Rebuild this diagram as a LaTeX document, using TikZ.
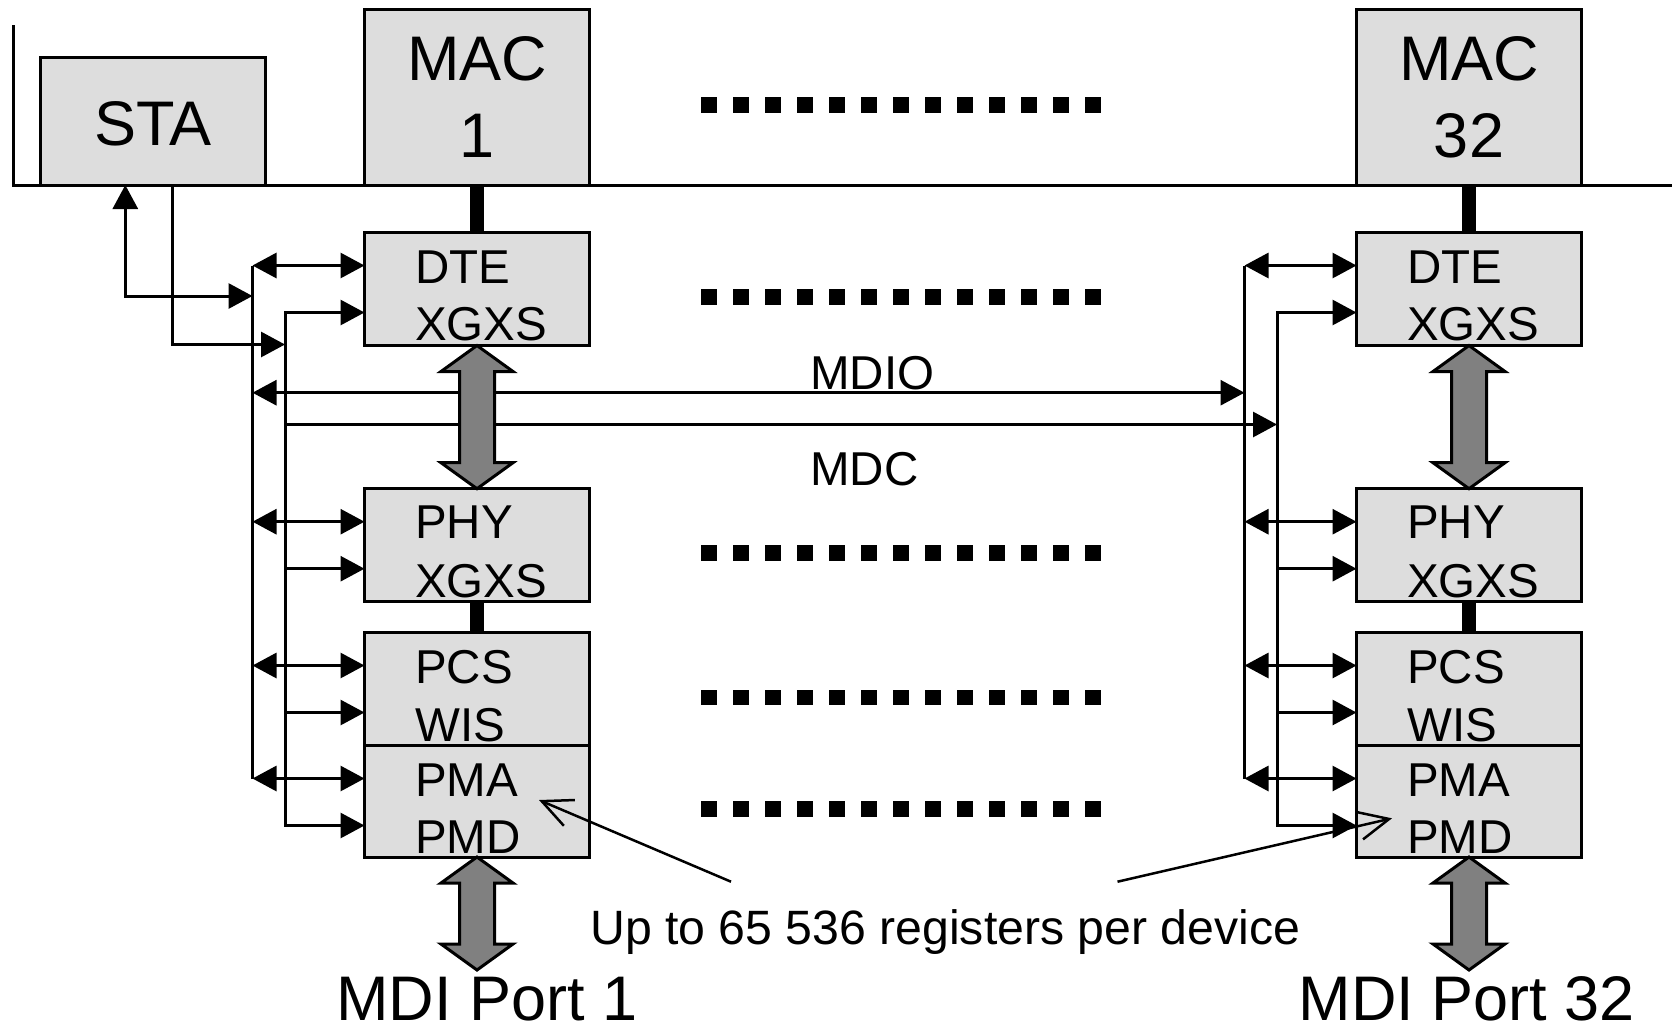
\documentclass[tikz,border=0pt]{standalone}
\usepackage{fontspec}
\setmainfont{Liberation Sans}
\usetikzlibrary{arrows.meta,calc}
\definecolor{boxgray}{HTML}{DDDDDD}
\definecolor{arrowgray}{HTML}{808080}

% double-headed fat arrow between a top point and a bottom point
\newcommand\bigdarrow[2]{%
  \filldraw[fat] let \p1=(#1), \p2=(#2) in
    (\x1,\y1) -- (\x1+36pt,\y1-26pt) -- (\x1+17.5pt,\y1-26pt)
    -- (\x1+17.5pt,\y2+26pt) -- (\x1+36pt,\y2+26pt) -- (\x1,\y2)
    -- (\x1-36pt,\y2+26pt) -- (\x1-17.5pt,\y2+26pt)
    -- (\x1-17.5pt,\y1-26pt) -- (\x1-36pt,\y1-26pt) -- cycle;}

\begin{document}
\begin{tikzpicture}[x=1pt,y=1pt,
  box/.style={draw=black,line width=3pt,fill=boxgray,minimum width=225pt,
    inner sep=0pt,outer sep=0pt},
  wire/.style={line width=3pt},
  tri/.tip={Triangle[length=24pt,width=25pt]},
  biarrow/.style={wire,arrows={tri-tri}},
  onearrow/.style={wire,arrows={-tri}},
  fat/.style={draw=black,fill=arrowgray,line width=3pt,line join=miter},
  link/.style={line width=14pt},
  txt/.style={inner sep=0pt,font=\fontsize{47.5}{57}\selectfont},
  notetxt/.style={inner sep=0pt,font=\fontsize{48.2}{58}\selectfont},
  bigtxt/.style={inner sep=0pt,font=\fontsize{63}{76}\selectfont},
  notearrow/.style={line width=2.5pt,arrows={-Straight Barb[length=30pt,width=28pt]}}
]
\useasboundingbox (0,0) rectangle (1672,-1029);

% station bus
\coordinate (busTop) at (13,-25);
\coordinate (busEnd) at (1672,-185);
\draw[wire] (busTop) |- (busEnd);

% management station and MACs
\node[box,minimum height=127.5pt] (sta) at (153,-121.25) {};
\node[box,minimum height=176pt] (mac1) at (477,-97) {};
\node[box,minimum height=176pt] (mac32) at (1469,-97) {};

% port 1 stack
\node[box,minimum height=113pt] (dte1) at (477,-289) {};
\node[box,minimum height=113pt] (phy1) at (477,-545.2) {};
\node[box,minimum height=113pt] (pcs1) at (477,-689) {};
\node[box,minimum height=111.5pt] (pma1) at (477,-801.25) {};

% port 32 stack
\node[box,minimum height=113pt] (dte32) at (1469,-289) {};
\node[box,minimum height=113pt] (phy32) at (1469,-545.2) {};
\node[box,minimum height=113pt] (pcs32) at (1469,-689) {};
\node[box,minimum height=111.5pt] (pma32) at (1469,-801.25) {};

% solid links between layers
\draw[link] (mac1.south) -- (dte1.north);
\draw[link] (phy1.south) -- (pcs1.north);
\draw[link] (mac32.south) -- (dte32.north);
\draw[link] (phy32.south) -- (pcs32.north);

% MDIO / MDC rails
\coordinate (mdioL) at (252.5,0);
\coordinate (mdcL) at (285,0);
\coordinate (mdioR) at (1244.5,0);
\coordinate (mdcR) at (1277,0);
\coordinate (mdioY) at (0,-392.7);
\coordinate (mdcY) at (0,-424.5);
\coordinate (staY1) at (0,-296);
\coordinate (staY2) at (0,-344.5);

\foreach \b in {dte1,phy1,pcs1,pma1,dte32,phy32,pcs32,pma32}{
  \path ([yshift=-33pt]\b.north west) coordinate (\b a)
        ([yshift=-80pt]\b.north west) coordinate (\b c);
}
\foreach \b/\o in {dte1/mdioL,phy1/mdioL,pcs1/mdioL,pma1/mdioL,
                   dte32/mdioR,phy32/mdioR,pcs32/mdioR,pma32/mdioR}{
  \draw[biarrow] (\o |- \b a) -- (\b a);
}
\foreach \b/\c in {phy1/mdcL,pcs1/mdcL,phy32/mdcR,pcs32/mdcR}{
  \draw[onearrow] (\c |- \b c) -- (\b c);
}
\draw[wire] (mdioL |- dte1a) -- (mdioL |- pma1a);
\draw[wire] (mdioR |- dte32a) -- (mdioR |- pma32a);
\draw[biarrow] (dte1c) -- (mdcL |- dte1c) -- (mdcL |- pma1c) -- (pma1c);
\draw[biarrow] (dte32c) -- (mdcR |- dte32c) -- (mdcR |- pma32c) -- (pma32c);

% STA to the rails
\draw[biarrow] ([xshift=-27.7pt]sta.south) |- (mdioL |- staY1);
\draw[onearrow] ([xshift=19.5pt]sta.south) |- (mdcL |- staY2);

% MDIO and MDC across the ports
\draw[biarrow] (mdioL |- mdioY) -- (mdioR |- mdioY);
\draw[onearrow] (mdcL |- mdcY) -- (mdcR |- mdcY);

% fat data paths
\coordinate (port1tip) at (477,-970);
\coordinate (port32tip) at (1469,-970);
\bigdarrow{dte1.south}{phy1.north}
\bigdarrow{pma1.south}{port1tip}
\bigdarrow{dte32.south}{phy32.north}
\bigdarrow{pma32.south}{port32tip}

% ellipsis rows
\foreach \row in {105,297,553,697.5,809}
  \foreach \i in {0,...,12}
    \fill ({701+32*\i},{-\row+7.85}) rectangle ++(15.7,-15.7);

% labels
\node[bigtxt,anchor=base] (staT) at (153,-145.5) {STA};
\node[bigtxt,anchor=base] (mac1T) at (477,-80.5) {MAC};
\node[bigtxt,anchor=base] (mac1N) at (477,-157.5) {1};
\node[bigtxt,anchor=base] (mac32T) at (1469,-80.5) {MAC};
\node[bigtxt,anchor=base] (mac32N) at (1469,-157.5) {32};

\foreach \x/\s in {415/1,1407/32}{
  \node[txt,anchor=base west] (dteA\s) at (\x,-283.5) {DTE};
  \node[txt,anchor=base west] (dteB\s) at (\x,-340.5) {XGXS};
  \node[txt,anchor=base west] (phyA\s) at (\x,-538.5) {PHY};
  \node[txt,anchor=base west] (phyB\s) at (\x,-597) {XGXS};
  \node[txt,anchor=base west] (pcsA\s) at (\x,-683) {PCS};
  \node[txt,anchor=base west] (pcsB\s) at (\x,-741) {WIS};
  \node[txt,anchor=base west] (pmaA\s) at (\x,-796) {PMA};
  \node[txt,anchor=base west] (pmaB\s) at (\x,-853) {PMD};
}

\node[txt,anchor=base west] (mdioT) at (810,-389) {MDIO};
\node[txt,anchor=base west] (mdcT) at (810,-485) {MDC};

\node[bigtxt,anchor=base] (port1) at (487,-1020) {MDI Port 1};
\node[bigtxt,anchor=base] (port32) at (1467,-1020) {MDI Port 32};

% register note
\node[notetxt,anchor=base west] (note) at (590,-944) {Up to 65 536 registers per device};
\coordinate (noteL) at (731,-881.7);
\coordinate (noteLtip) at (539,-800);
\coordinate (noteR) at (1117.5,-881.7);
\coordinate (noteRtip) at (1392,-818.3);
\draw[notearrow] (noteL) -- (noteLtip);
\draw[notearrow] (noteR) -- (noteRtip);
\end{tikzpicture}
\end{document}
